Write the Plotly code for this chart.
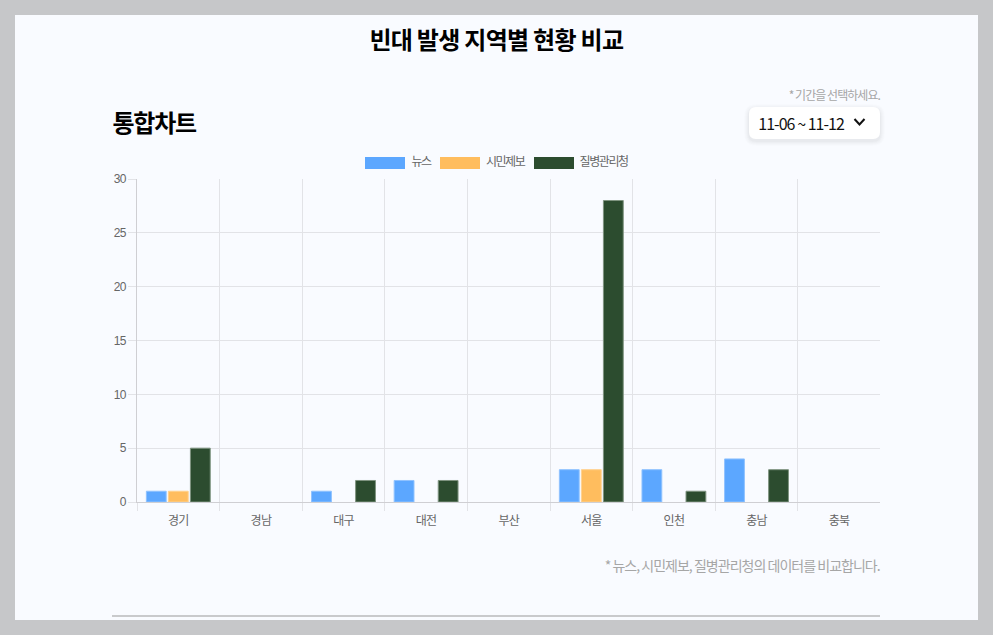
import plotly.graph_objects as go

regions = ['경기', '경남', '대구', '대전', '부산', '서울', '인천', '충남', '충북']
news = [1, 0, 1, 2, 0, 3, 3, 4, 0]
citizen = [1, 0, 0, 0, 0, 3, 0, 0, 0]
kdca = [5, 0, 2, 2, 0, 28, 1, 3, 0]
y_ticks = [0, 5, 10, 15, 20, 25, 30]

series_names = ['뉴스', '시민제보', '질병관리청']
fill_colors = ['#5CA7FF', '#FFBD5E', '#2C4C2F']
edge_colors = ['#8FC2FF', '#FFD18E', '#7F9480']

KR = 'Noto Sans CJK KR'
TICK_FONT = 'Liberation Sans, Noto Sans CJK KR'

# plot area in page pixels
LEFT, RIGHT, TOP, BOTTOM = 137, 880, 179, 502
W, H = 993, 635


def px(x):
    return (x - LEFT) / (RIGHT - LEFT)


def py(y):
    return (BOTTOM - y) / (BOTTOM - TOP)


def rect(x0, y0, x1, y1, color):
    return dict(type='rect', xref='paper', yref='paper', layer='below',
                x0=px(x0), x1=px(x1), y0=py(y0), y1=py(y1),
                fillcolor=color, line=dict(width=0))


def round_box(x0, y0, x1, y1, r, color):
    path = (f'M{px(x0 + r)},{py(y0)} L{px(x1 - r)},{py(y0)} '
            f'Q{px(x1)},{py(y0)} {px(x1)},{py(y0 + r)} L{px(x1)},{py(y1 - r)} '
            f'Q{px(x1)},{py(y1)} {px(x1 - r)},{py(y1)} L{px(x0 + r)},{py(y1)} '
            f'Q{px(x0)},{py(y1)} {px(x0)},{py(y1 - r)} L{px(x0)},{py(y0 + r)} '
            f'Q{px(x0)},{py(y0)} {px(x0 + r)},{py(y0)} Z')
    return dict(type='path', xref='paper', yref='paper', layer='below', path=path,
                fillcolor=color, line=dict(width=0))


def label(x, y, text, size, color, bold=False, family=KR):
    # everything is centred because the css letter spacing shrinks around the middle
    return dict(xref='paper', yref='paper', x=px(x), y=py(y), text=f'<b>{text}</b>' if bold else text,
                showarrow=False, xanchor='center', yanchor='middle', borderpad=0, borderwidth=0,
                font=dict(family=family, size=size, color=color))


fig = go.Figure()
for name, vals, fill, edge in zip(series_names, [news, citizen, kdca], fill_colors, edge_colors):
    fig.add_trace(go.Bar(x=regions, y=vals, name=name,
                         marker=dict(color=fill, line=dict(color=edge, width=[1 if v else 0 for v in vals]))))

shapes = [rect(15, 15, 978, 620, '#F9FBFF'), rect(112, 615, 880, 617, '#C9CACC')]

# soft shadow under the period selector
for grow, shade in [(5, 'rgba(0,0,0,0.008)'), (4, 'rgba(0,0,0,0.01)'), (3, 'rgba(0,0,0,0.012)'),
                    (2, 'rgba(0,0,0,0.015)'), (1, 'rgba(0,0,0,0.02)')]:
    shapes.append(round_box(749 - grow, 107 - grow + 2, 880 + grow, 139 + grow + 2, 7 + grow, shade))
shapes.append(round_box(749, 107, 880, 139, 7, '#FFFFFF'))
shapes.append(dict(type='path', xref='paper', yref='paper',
                   path=f'M{px(854.5)},{py(119)} L{px(859.5)},{py(124.5)} L{px(864.5)},{py(119)}',
                   line=dict(color='#111111', width=2)))

annotations = [
    label(496.5, 38, '빈대 발생 지역별 현황 비교', 24, '#000000', True),
    label(154, 122, '통합차트', 24, '#000000', True),
    label(834.5, 94.5, '* 기간을 선택하세요.', 12, '#A6A6A6'),
    label(800.5, 123, '11-06 ~ 11-12', 16, '#111111'),
    label(742, 564.5, '* 뉴스, 시민제보, 질병관리청의 데이터를 비교합니다.', 14, '#A6A6A6'),
]

# legend row
legend_x = [(365, 421), (440, 505), (534, 603.5)]
for (sw, tx), name, fill in zip(legend_x, series_names, fill_colors):
    shapes.append(rect(sw, 157, sw + 40, 169, fill))
    annotations.append(label(tx, 162, name, 12, '#666666', family=TICK_FONT))

fig.update_layout(
    width=W, height=H,
    margin=dict(l=LEFT, r=W - RIGHT, t=TOP, b=H - BOTTOM, pad=0),
    paper_bgcolor='#C6C7C9',
    plot_bgcolor='rgba(0,0,0,0)',
    barmode='group',
    bargap=0.2,
    bargroupgap=0.1,
    showlegend=False,
    shapes=shapes,
    annotations=annotations,
    font=dict(family=TICK_FONT, size=12, color='#666666'),
)
fig.update_xaxes(type='category', range=[-0.5, 8.495], tickson='boundaries', ticks='outside', ticklen=8,
                 tickcolor='#E2E3E7', tickwidth=1, showgrid=True, gridcolor='#E2E3E7', gridwidth=1,
                 showline=True, linecolor='#CFCFD3', linewidth=1, ticklabelstandoff=8,
                 tickfont=dict(size=12, color='#666666'))
fig.update_yaxes(range=[0, 30], tickmode='array', tickvals=y_ticks, ticks='outside', ticklen=8,
                 tickcolor='#E2E3E7', tickwidth=1, showgrid=True, gridcolor='#E2E3E7', gridwidth=1,
                 showline=True, linecolor='#CFCFD3', linewidth=1, zeroline=False,
                 tickfont=dict(size=12, color='#666666'))

page_fix = """
document.body.style.margin = '0';
document.body.style.overflow = 'hidden';
var s = document.createElement('style');
s.textContent = '.xtick text, .ytick text { letter-spacing: -0.06em; }'
  + '.annotation[data-index="0"] text { letter-spacing: -0.03em; }'
  + '.annotation[data-index="1"] text { letter-spacing: -0.05em; }'
  + '.annotation[data-index="2"] text { letter-spacing: -0.08em; }'
  + '.annotation[data-index="3"] text { letter-spacing: -0.06em; }'
  + '.annotation[data-index="4"] text { letter-spacing: -0.07em; }'
  + '.annotation[data-index="5"] text, .annotation[data-index="6"] text, .annotation[data-index="7"] text { letter-spacing: -0.12em; }';
document.head.appendChild(s);
"""
fig.write_html("out.html", post_script=page_fix, config=dict(displayModeBar=False))
